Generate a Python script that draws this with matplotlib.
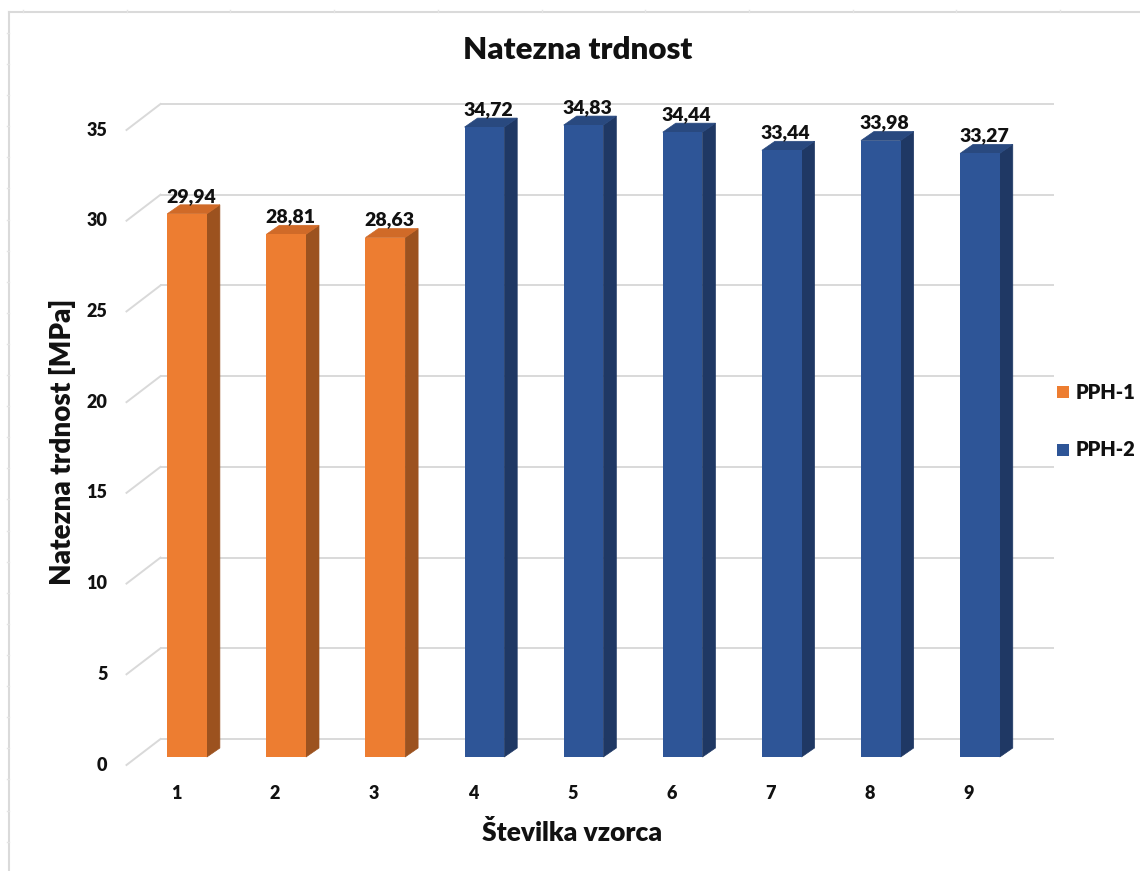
import matplotlib
matplotlib.use("Agg")
import matplotlib.pyplot as plt
from matplotlib.patches import Polygon, Rectangle
from matplotlib.lines import Line2D

plt.rcParams['font.family'] = ['Lato', 'DejaVu Sans']
plt.rcParams['font.weight'] = 'heavy'
WEIGHT = 'heavy'

# --- data ---
samples = [1, 2, 3, 4, 5, 6, 7, 8, 9]
strength = [29.94, 28.81, 28.63, 34.72, 34.83, 34.44, 33.44, 33.98, 33.27]
groups = ['PPH-1', 'PPH-1', 'PPH-1', 'PPH-2', 'PPH-2', 'PPH-2', 'PPH-2', 'PPH-2', 'PPH-2']
series_names = ['PPH-1', 'PPH-2']
y_ticks = [0, 5, 10, 15, 20, 25, 30, 35]

# face colours per series: front, side, top
face_colors = {
    'PPH-1': ('#ED7D31', '#9C521F', '#D06A28'),
    'PPH-2': ('#2E5597', '#1F3864', '#29497F'),
}
GRID = '#D9D9D9'
INK = '#111111'

W, H, DPI = 1140, 871, 100
fig = plt.figure(figsize=(W / DPI, H / DPI), dpi=DPI)
fig.patch.set_facecolor('white')

# front plane of the columns (pixel layout of the plot area)
left_px, right_px, bottom_px, top_px = 137.5, 1029.5, 757, 122
ax = fig.add_axes([left_px / W, 1 - bottom_px / H,
                   (right_px - left_px) / W, (bottom_px - top_px) / H])
ax.set_xlim(0.5, 9.5)
ax.set_ylim(0, 35)
ax.axis('off')

xpp = 9.0 / (right_px - left_px)      # data x per pixel
ypp = 35.0 / (bottom_px - top_px)     # data y per pixel


def d(px, py):
    return px * xpp, py * ypp


# depth geometry (pixels): back wall and floor front edge relative to column front
back_dx, back_dy = d(23, 18)
front_dx, front_dy = d(-11, -8)
bar_dx, bar_dy = d(13, 9)
bar_w = 0.40

# back wall gridlines and the floor/side diagonals
for v in y_ticks:
    ax.add_line(Line2D([0.5 + back_dx, 9.5 + back_dx], [v + back_dy, v + back_dy],
                       color=GRID, lw=1.4, clip_on=False, zorder=1))
    ax.add_line(Line2D([0.5 + front_dx, 0.5 + back_dx], [v + front_dy, v + back_dy],
                       color=GRID, lw=1.4, clip_on=False, zorder=1))
    ax.text(0.5 + front_dx - d(19, 0)[0], v + front_dy, str(v),
            ha='right', va='center', fontsize=13, fontweight=WEIGHT, color=INK)

# 3D columns
for x, v, g in zip(samples, strength, groups):
    front, side, top = face_colors[g]
    x0, x1 = x - bar_w / 2, x + bar_w / 2
    ax.add_patch(Polygon([(x1, 0), (x1, v), (x1 + bar_dx, v + bar_dy), (x1 + bar_dx, bar_dy)],
                         closed=True, facecolor=side, edgecolor=side, lw=0.5,
                         zorder=3, clip_on=False))
    ax.add_patch(Polygon([(x0, v), (x1, v), (x1 + bar_dx, v + bar_dy), (x0 + bar_dx, v + bar_dy)],
                         closed=True, facecolor=top, edgecolor=top, lw=0.5,
                         zorder=3, clip_on=False))
    ax.bar(x, v, width=bar_w, color=front, zorder=4, clip_on=False)
    ax.annotate(f'{v:.2f}'.replace('.', ','), xy=(x, v), xytext=(4, 12),
                textcoords='offset pixels', ha='center', va='baseline',
                fontsize=14, fontweight=WEIGHT, color=INK, zorder=5)
    # category label on the floor front edge
    ax.text(x + front_dx, front_dy - d(0, 28)[1], str(x), ha='center', va='center',
            fontsize=13, fontweight=WEIGHT, color=INK)

# titles
fig.text(578 / W, 1 - 50 / H, 'Natezna trdnost', ha='center', va='center',
         fontsize=22.5, fontweight=WEIGHT, color=INK)
fig.text(63 / W, 1 - 442 / H, 'Natezna trdnost [MPa]', ha='center', va='center',
         rotation=90, fontsize=20, fontweight=WEIGHT, color=INK)
fig.text(572 / W, 1 - 832 / H, 'Številka vzorca', ha='center', va='center',
         fontsize=19, fontweight=WEIGHT, color=INK)

# legend
for i, name in enumerate(series_names):
    cy = 392 + i * 58
    fig.patches.append(Rectangle((1057 / W, 1 - (cy + 6) / H), 12 / W, 12 / H,
                                 transform=fig.transFigure, facecolor=face_colors[name][0],
                                 edgecolor='none'))
    fig.text(1076 / W, 1 - cy / H, name, ha='left', va='center',
             fontsize=14.5, fontweight=WEIGHT, color=INK)

# chart frame with its small handle marks
fig.add_artist(Line2D([9 / W, 1], [1 - 12 / H, 1 - 12 / H], color='#DADADA', lw=1.5,
                      transform=fig.transFigure))
fig.add_artist(Line2D([9 / W, 9 / W], [0, 1 - 12 / H], color='#DADADA', lw=1.5,
                      transform=fig.transFigure))
for k in range(11):
    xk = 23 + k * 103.7
    fig.add_artist(Line2D([xk / W, xk / W], [1 - 12 / H, 1 - 10 / H], color='#E4E4E4', lw=1.0,
                          transform=fig.transFigure))
for k in range(27):
    yk = 33 + k * 31.1
    fig.add_artist(Line2D([7 / W, 9 / W], [1 - yk / H, 1 - yk / H], color='#E4E4E4', lw=1.0,
                          transform=fig.transFigure))

fig.savefig('out.png', dpi=DPI, facecolor='white')
